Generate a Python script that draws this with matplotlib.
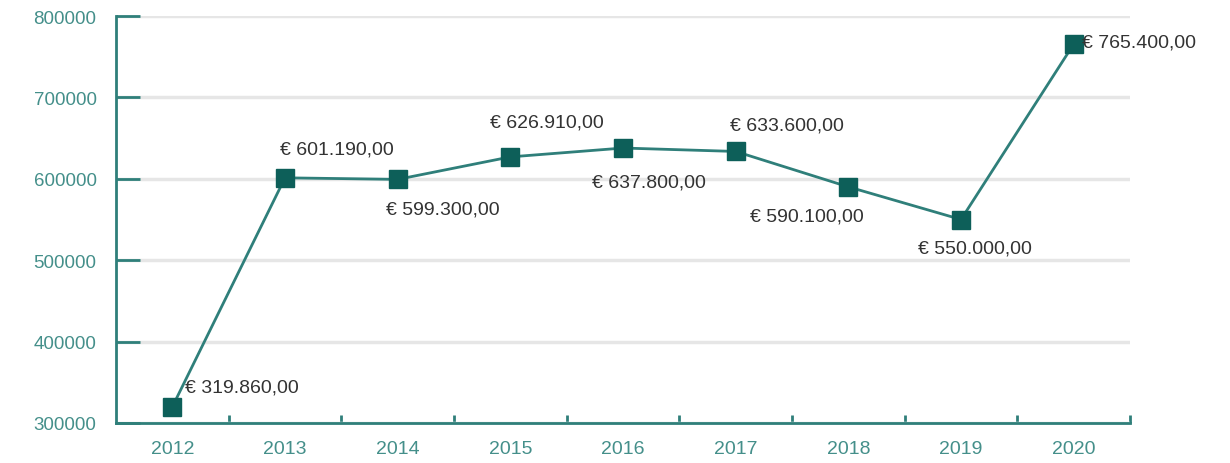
import numpy as np
import matplotlib.pyplot as plt
from matplotlib.ticker import FixedLocator

plt.rcParams['font.family'] = ['Liberation Sans', 'DejaVu Sans']

years = ['2012', '2013', '2014', '2015', '2016', '2017', '2018', '2019', '2020']
values = [319860, 601190, 599300, 626910, 637800, 633600, 590100, 550000, 765400]
labels = ['€ 319.860,00', '€ 601.190,00', '€ 599.300,00', '€ 626.910,00',
          '€ 637.800,00', '€ 633.600,00', '€ 590.100,00', '€ 550.000,00',
          '€ 765.400,00']
# label offsets in pixels (dx, dy) from each point
offsets = [(13, 20), (-5, 29), (-12, -30), (-20, 35), (-31, -34),
           (-6, 26), (-98, -29), (-43, -29), (8, 2)]

teal = '#2f7f7a'
dark = '#0d5f59'
tick_col = '#448f8a'

fig = plt.figure(figsize=(12.3, 4.64), dpi=100)
ax = fig.add_axes([116 / 1230, 40 / 464, 1014 / 1230, 407 / 464])

x = np.arange(len(years))
ax.plot(x, values, color=teal, lw=2, marker='s', markersize=13,
        markerfacecolor=dark, markeredgecolor=dark, zorder=3)

for xi, v, lab, (dx, dy) in zip(x, values, labels, offsets):
    ax.annotate(lab, (xi, v), xytext=(dx, dy), textcoords='offset pixels',
                ha='left', va='center', fontsize=14, color='#333333', zorder=4)

ax.set_xlim(-0.5, len(years) - 0.5)
ax.set_ylim(300000, 800000)
ax.set_yticks([300000, 400000, 500000, 600000, 700000, 800000])
ax.set_xticks(x)
ax.set_xticklabels(years)
ax.xaxis.set_minor_locator(FixedLocator(np.arange(0.5, len(years), 1.0)))

ax.grid(axis='y', color='#e6e6e6', lw=2.5, zorder=0)
ax.set_axisbelow(True)

for s in ['top', 'right']:
    ax.spines[s].set_visible(False)
for s in ['left', 'bottom']:
    ax.spines[s].set_color(teal)
    ax.spines[s].set_linewidth(2)

ax.tick_params(axis='y', direction='in', length=17, width=2, color=teal,
               labelcolor=tick_col, labelsize=13.5, pad=14)
ax.tick_params(axis='x', which='major', length=0, labelcolor=tick_col,
               labelsize=14, pad=12)
ax.tick_params(axis='x', which='minor', direction='in', length=6, width=2,
               color=teal)

fig.savefig('out.png', dpi=100)
